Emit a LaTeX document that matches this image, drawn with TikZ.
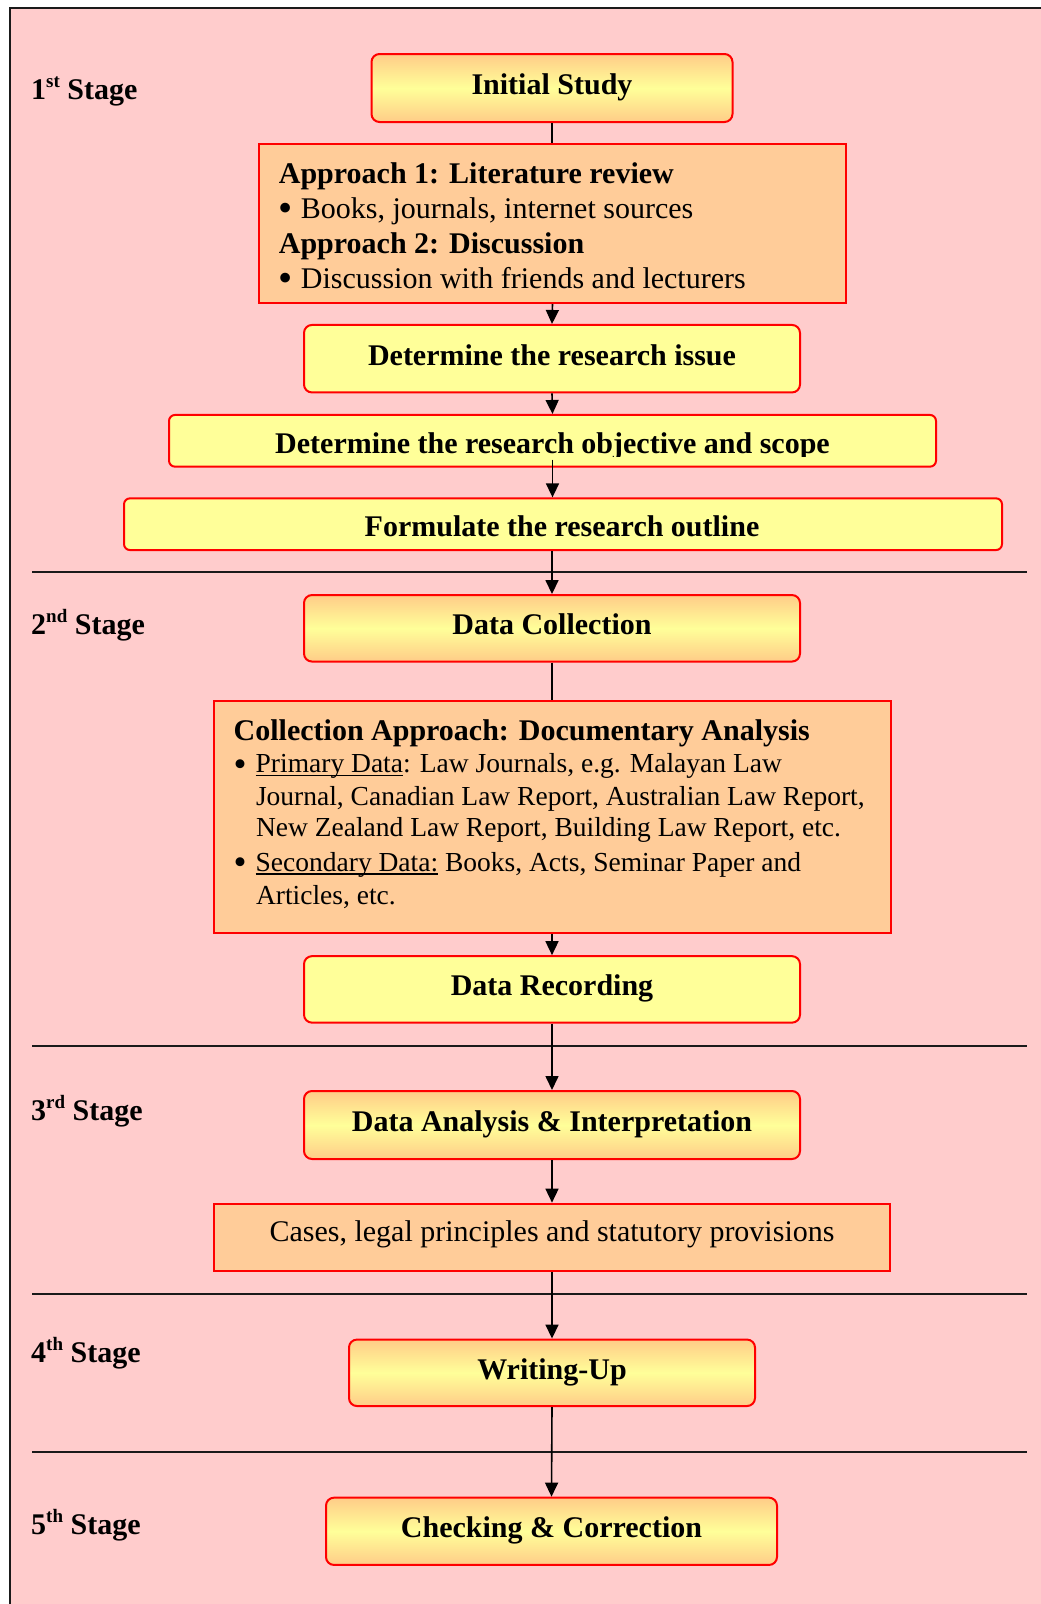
\documentclass[tikz,border=0pt]{standalone}
\usepackage{fontspec}
\setmainfont{Liberation Serif}
\usetikzlibrary{arrows.meta}
\definecolor{bgpink}{HTML}{FFCCCC}
\definecolor{orng}{HTML}{FFCC99}
\definecolor{yel}{HTML}{FFFF99}
\definecolor{gradc}{HTML}{FFCC88}
\definecolor{boxred}{HTML}{FF0000}
\definecolor{linec}{HTML}{1A1A1A}
\newcommand\bigf{\fontsize{30}{36}\selectfont}
\newcommand\smf{\fontsize{27.5}{33}\selectfont}
\newcommand\stg[2]{\textbf{#1\raisebox{12pt}{\fontsize{19}{19}\selectfont #2} Stage}}
\newcommand\bul{\makebox[22pt][l]{\raisebox{-3.5pt}{\scalebox{1.35}{\textbullet}}}}
\newcommand\myul[1]{\setbox0\hbox{#1}\rlap{\rule[-3.5pt]{\wd0}{1.6pt}}\box0\relax}
\begin{document}
\begin{tikzpicture}[x=1pt,y=-1pt,
  tbox/.style={draw=boxred, line width=2pt, rounded corners=8pt, inner sep=0pt,
    text height=21pt, text depth=8pt, font=\bigf\bfseries, anchor=center},
  gradbox/.style={tbox, top color=gradc, bottom color=gradc, middle color=yel},
  flatbox/.style={tbox, fill=yel},
  thinbox/.style={draw=boxred, line width=2pt, rounded corners=6pt, fill=yel, inner sep=0pt},
  obox/.style={draw=boxred, line width=2pt, fill=orng, inner sep=0pt},
  txt/.style={inner sep=0pt, anchor=base west, font=\bigf},
  stxt/.style={inner sep=0pt, anchor=base west, font=\smf},
  stagelbl/.style={inner sep=0pt, anchor=base west, font=\bigf},
  sepline/.style={draw=linec, line width=1.8pt},
  conn/.style={draw=black, line width=1.6pt},
  arr/.style={conn, -{Triangle[length=14pt,width=13pt]}}
]
\useasboundingbox (0,0) rectangle (1041,1604);
\fill[bgpink] (10,8) rectangle (1060,1620);
\draw[linec, line width=2pt] (10,1620) -- (10,8) -- (1060,8);

% separators
\draw[sepline] (32,572) -- (1027,572);
\draw[sepline] (32,1046) -- (1027,1046);
\draw[sepline] (32,1294) -- (1027,1294);
\draw[sepline] (32,1452) -- (1027,1452);

% stage labels
\node[stagelbl] (s1) at (31,99.3) {\stg{1}{st}};
\node[stagelbl] (s2) at (31,634.5) {\stg{2}{nd}};
\node[stagelbl] (s3) at (31,1120) {\stg{3}{rd}};
\node[stagelbl] (s4) at (31,1362) {\stg{4}{th}};
\node[stagelbl] (s5) at (31,1534) {\stg{5}{th}};

% boxes
\node[gradbox, minimum width=361pt, minimum height=68pt] (init) at (552,88) {Initial Study};
\node[obox, minimum width=587pt, minimum height=159pt] (appr) at (552.5,223.5) {};
\node[flatbox, minimum width=496pt, minimum height=67.5pt] (issue) at (552,358.7) {Determine the research issue};
\node[thinbox, minimum width=767pt, minimum height=51.7pt] (obj) at (552.5,440.8) {};
\node[thinbox, minimum width=878pt, minimum height=51.7pt] (form) at (563,524.2) {};
\node[gradbox, minimum width=496pt, minimum height=66.5pt] (dcol) at (552,628.3) {Data Collection};
\node[obox, minimum width=677pt, minimum height=231.7pt] (capp) at (552,816.9) {};
\node[flatbox, minimum width=496pt, minimum height=66.5pt] (drec) at (552,989.4) {Data Recording};
\node[gradbox, minimum width=496pt, minimum height=68pt] (dana) at (552,1125) {Data Analysis \& Interpretation};
\node[obox, minimum width=676pt, minimum height=67.5pt, text height=20pt, text depth=12pt, font=\bigf] (cases) at (552,1237.4) {Cases, legal principles and statutory provisions};
\node[gradbox, minimum width=406pt, minimum height=66.5pt] (wup) at (552,1372.8) {Writing-Up};
\node[gradbox, minimum width=451pt, minimum height=67.3pt] (chk) at (551.5,1531.3) {Checking \& Correction};

% approach box text
\node[txt] (a1) at (278.7,183) {\textbf{Approach 1: Literature review}};
\node[txt] (a2) at (278.7,218.3) {\bul Books, journals, internet sources};
\node[txt] (a3) at (278.7,253.3) {\textbf{Approach 2: Discussion}};
\node[txt] (a4) at (278.7,288.3) {\bul Discussion with friends and lecturers};

% objective / outline text
\begin{scope}
  \clip (170,416) rectangle (935,456);
  \node[inner sep=0pt, anchor=base, font=\bigf\bfseries] (objtxt) at (552.5,453.5) {Determine the research objective and scope};
\end{scope}
\node[inner sep=0pt, anchor=base, font=\bigf\bfseries] (formtxt) at (562,536.7) {Formulate the research outline};

% collection box text
\node[txt] (c1) at (233.5,740) {\textbf{Collection Approach: Documentary Analysis}};
\node[stxt] (c2) at (233.5,772.7) {\bul\myul{Primary Data}: Law Journals, e.g. Malayan Law};
\node[stxt] (c3) at (255.8,805) {Journal, Canadian Law Report, Australian Law Report,};
\node[stxt] (c4) at (255.8,836.7) {New Zealand Law Report, Building Law Report, etc.};
\node[stxt] (c5) at (233.5,871) {\bul\myul{Secondary Data:} Books, Acts, Seminar Paper and};
\node[stxt] (c6) at (255.8,904.3) {Articles, etc.};

% connectors
\draw[conn] (init.south) -- (init.south |- appr.north);
\draw[arr] (appr.south) -- (issue.north);
\draw[arr] (issue.south) -- (obj.north);
\draw[arr] ([yshift=8pt]obj.south) -- (obj.south |- form.north);
\draw[arr] (dcol.north |- form.south) -- (dcol.north);
\draw[conn] (dcol.south) -- (capp.north);
\draw[arr] (capp.south) -- (drec.north);
\draw[arr] (drec.south) -- (dana.north);
\draw[arr] (dana.south) -- (cases.north);
\draw[arr] (cases.south) -- (wup.north);
\draw[arr] (wup.south) -- (chk.north);
\end{tikzpicture}
\end{document}
